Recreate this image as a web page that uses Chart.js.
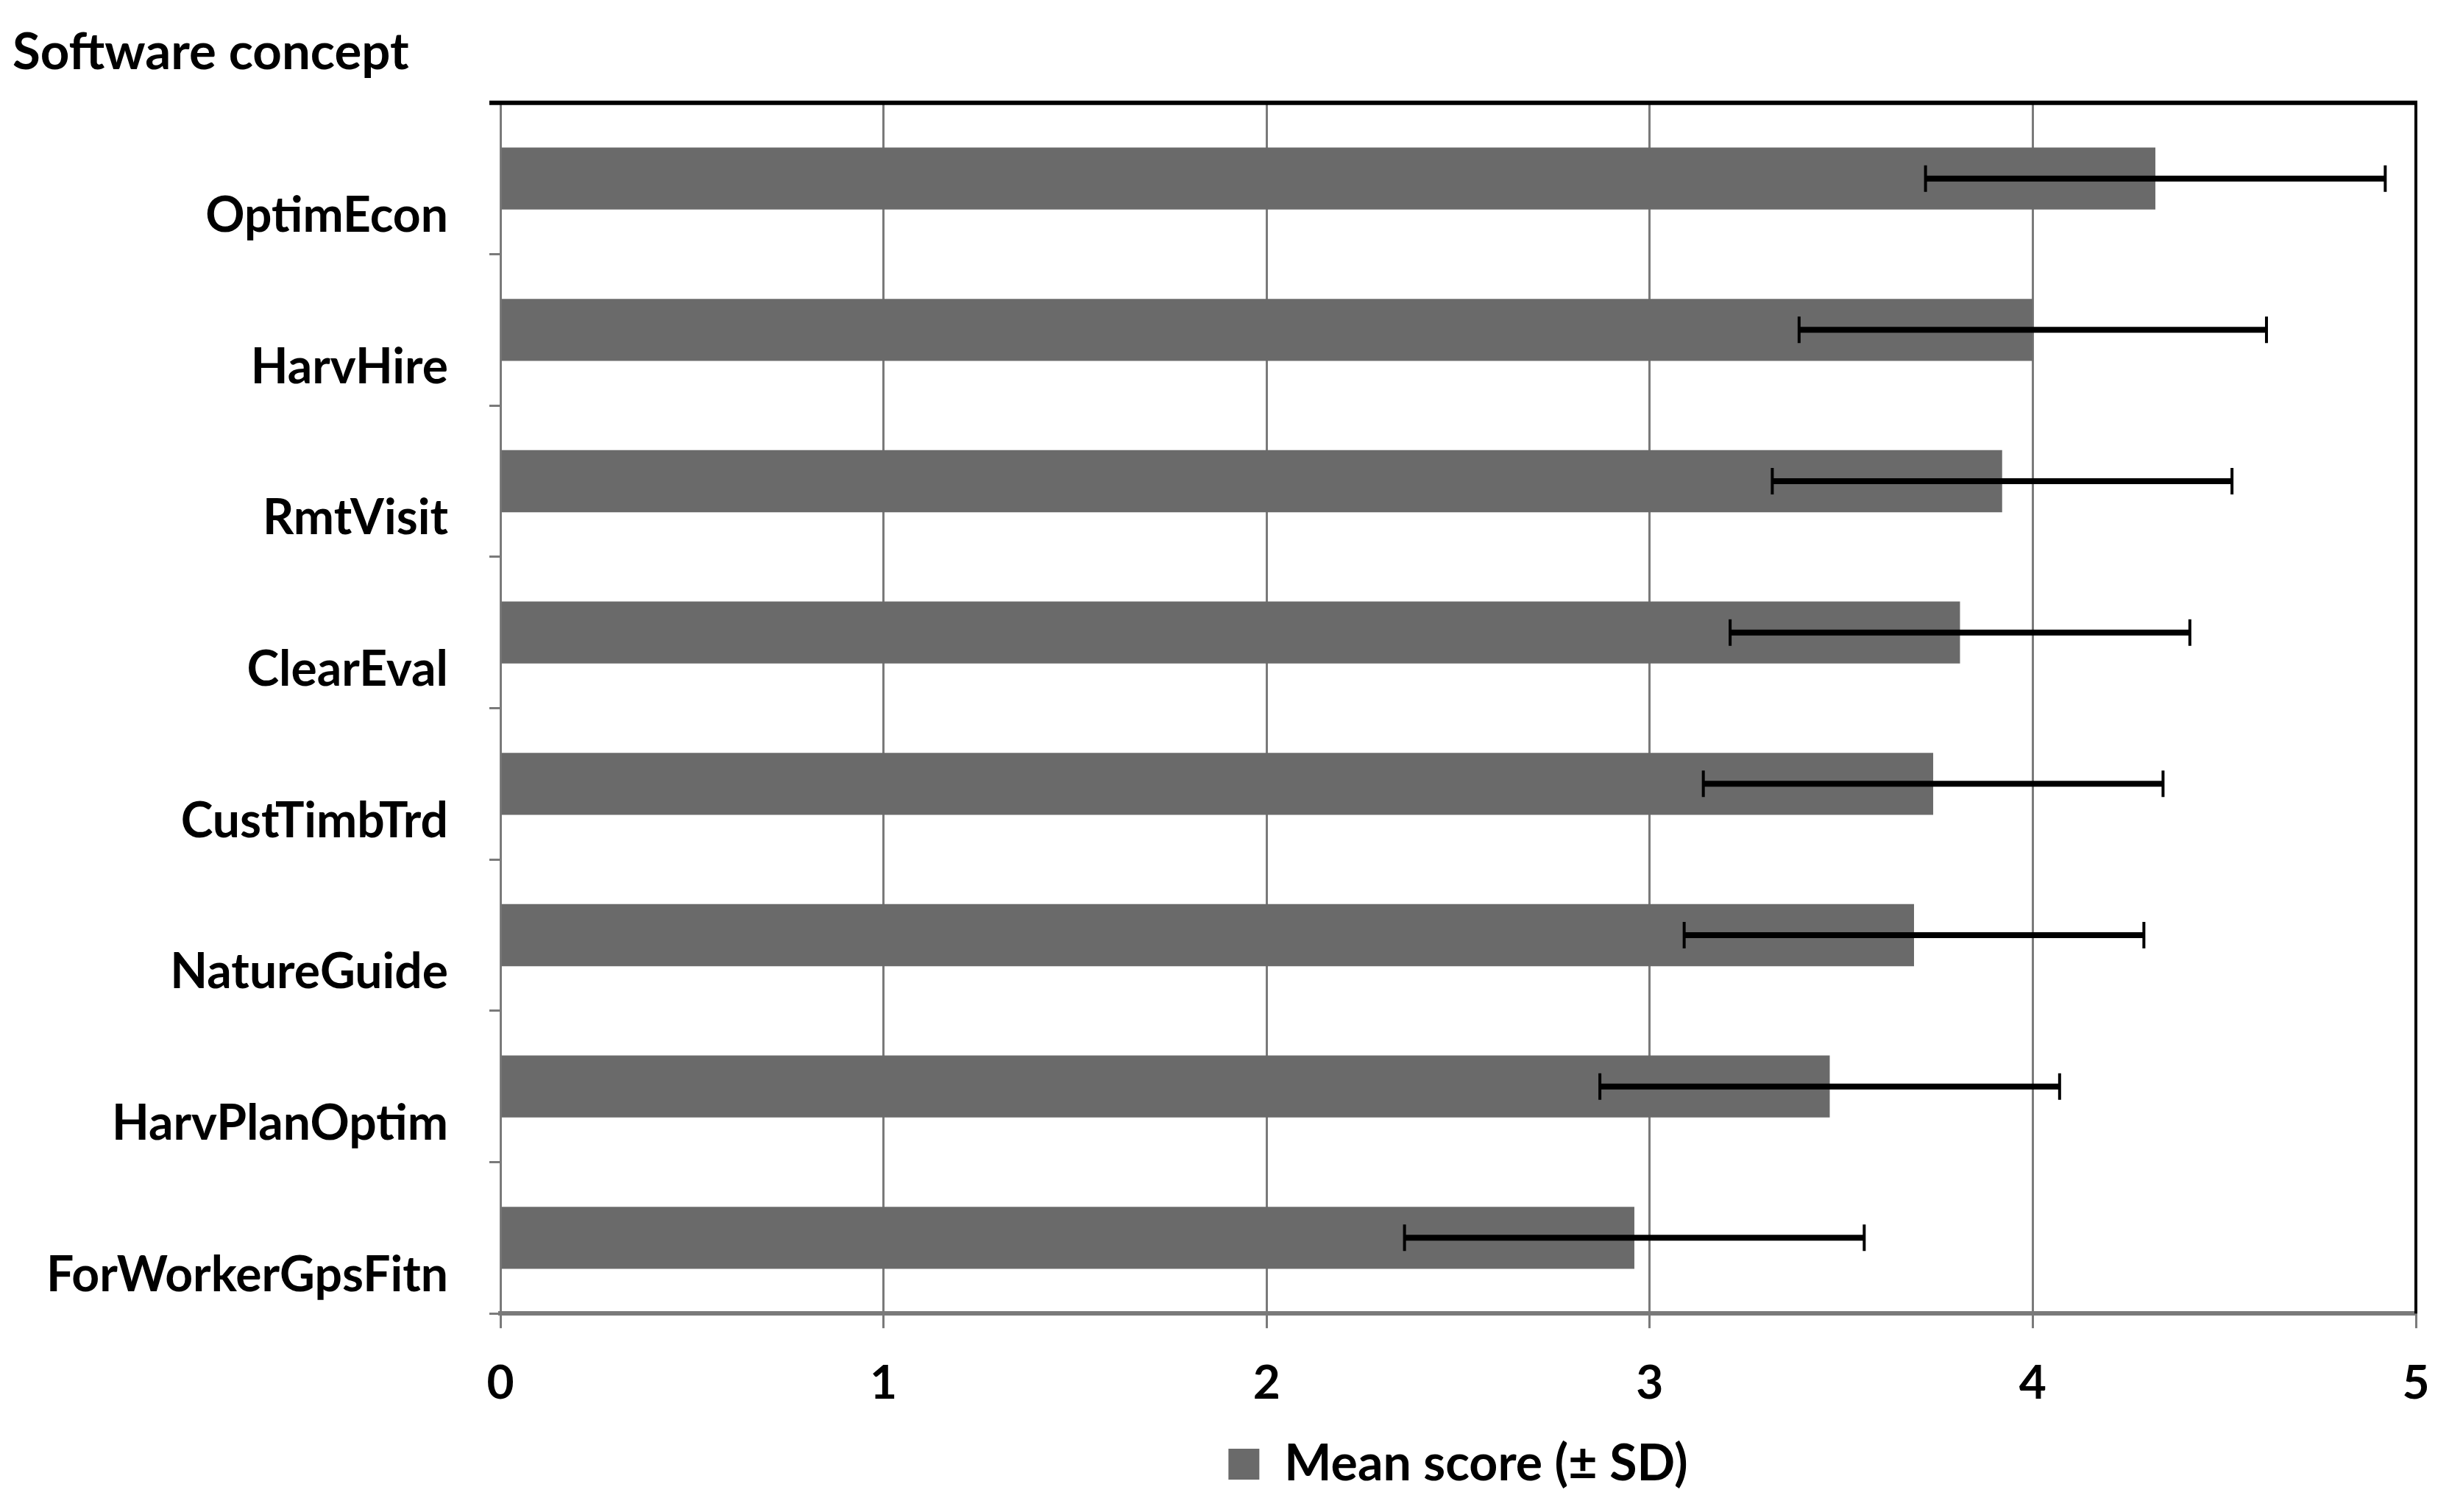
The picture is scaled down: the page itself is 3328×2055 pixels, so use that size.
<!DOCTYPE html>
<html>
<head>
<meta charset="utf-8">
<script src="https://cdn.jsdelivr.net/npm/chart.js@4.4.1/dist/chart.umd.min.js"></script>
<style>
  html, body { margin: 0; padding: 0; background: #fff; overflow: hidden; }
  #wrap { width: 3328px; height: 2055px; position: relative; }
  canvas { display: block; }
</style>
</head>
<body>
<div id="wrap"><canvas id="chart"></canvas></div>
<script>
// data
const concepts = ['OptimEcon', 'HarvHire', 'RmtVisit', 'ClearEval', 'CustTimbTrd', 'NatureGuide', 'HarvPlanOptim', 'ForWorkerGpsFitn'];
const meanScores = [4.32, 4.00, 3.92, 3.81, 3.74, 3.69, 3.47, 2.96];
const sdScores = [0.60, 0.61, 0.60, 0.60, 0.60, 0.60, 0.60, 0.60];
const xTicks = [0, 1, 2, 3, 4, 5];

const barGrey = '#6a6a6a';
const axisGrey = '#7a7a7a';

Chart.defaults.font.family = 'Lato, "Open Sans", sans-serif';
Chart.defaults.font.weight = 'bold';
Chart.defaults.color = '#000';

// +/- SD whiskers, placed with the x scale
const errorBars = {
  id: 'errorBars',
  afterDatasetsDraw(chart) {
    const { ctx } = chart;
    const xs = chart.scales.x;
    const bars = chart.getDatasetMeta(0).data;
    ctx.save();
    ctx.strokeStyle = '#000';
    bars.forEach((bar, i) => {
      const lo = xs.getPixelForValue(meanScores[i] - sdScores[i]);
      const hi = xs.getPixelForValue(meanScores[i] + sdScores[i]);
      const y = bar.y;
      ctx.lineWidth = 8;
      ctx.beginPath();
      ctx.moveTo(lo, y);
      ctx.lineTo(hi, y);
      ctx.stroke();
      ctx.lineWidth = 4;
      ctx.beginPath();
      ctx.moveTo(lo, y - 18); ctx.lineTo(lo, y + 18);
      ctx.moveTo(hi, y - 18); ctx.lineTo(hi, y + 18);
      ctx.stroke();
    });
    ctx.restore();
  }
};

// black top and right frame lines of the plot area
const frame = {
  id: 'frame',
  afterDraw(chart) {
    const { ctx, chartArea: a } = chart;
    ctx.save();
    ctx.strokeStyle = '#000';
    ctx.lineWidth = 6;
    ctx.beginPath();
    ctx.moveTo(a.left - 15, a.top);
    ctx.lineTo(a.right + 2, a.top);
    ctx.stroke();
    ctx.lineWidth = 4;
    ctx.beginPath();
    ctx.moveTo(a.right, a.top);
    ctx.lineTo(a.right, a.bottom);
    ctx.stroke();
    ctx.restore();
  }
};

new Chart(document.getElementById('chart'), {
  type: 'bar',
  data: {
    labels: concepts,
    datasets: [{
      label: 'Mean score (\u00b1 SD)',
      data: meanScores,
      backgroundColor: barGrey,
      borderWidth: 0,
      categoryPercentage: 0.41,
      barPercentage: 1.0
    }]
  },
  options: {
    indexAxis: 'y',
    responsive: true,
    maintainAspectRatio: false,
    animation: false,
    devicePixelRatio: 1,
    layout: { padding: { left: 17, right: 45, top: 30, bottom: 21 } },
    plugins: {
      title: {
        display: true,
        text: 'Software concept',
        align: 'start',
        color: '#000',
        font: { size: 69, weight: 'bold' },
        padding: { top: 0, bottom: 27 }
      },
      legend: {
        position: 'bottom',
        fullSize: false,
        labels: {
          boxWidth: 42,
          boxHeight: 42,
          padding: 0,
          color: '#000',
          font: { size: 68, weight: 'bold' }
        }
      },
      tooltip: { enabled: false }
    },
    scales: {
      x: {
        min: xTicks[0],
        max: xTicks[xTicks.length - 1],
        afterBuildTicks: s => { s.ticks = xTicks.map(v => ({ value: v })); },
        afterFit: s => { s.paddingRight = 0; },
        grid: { color: axisGrey, lineWidth: 3, tickLength: 20 },
        border: { display: true, color: axisGrey, width: 6 },
        ticks: { padding: 37, color: '#000', font: { size: 64, weight: 'bold' } }
      },
      y: {
        afterFit: s => { s.width = 663; },
        grid: { drawOnChartArea: false, color: axisGrey, lineWidth: 3, tickLength: 15 },
        border: { display: true, color: axisGrey, width: 3 },
        ticks: { padding: 56, labelOffset: 51, color: '#000', font: { size: 66, weight: 'bold' } }
      }
    }
  },
  plugins: [errorBars, frame]
});
</script>
</body>
</html>
